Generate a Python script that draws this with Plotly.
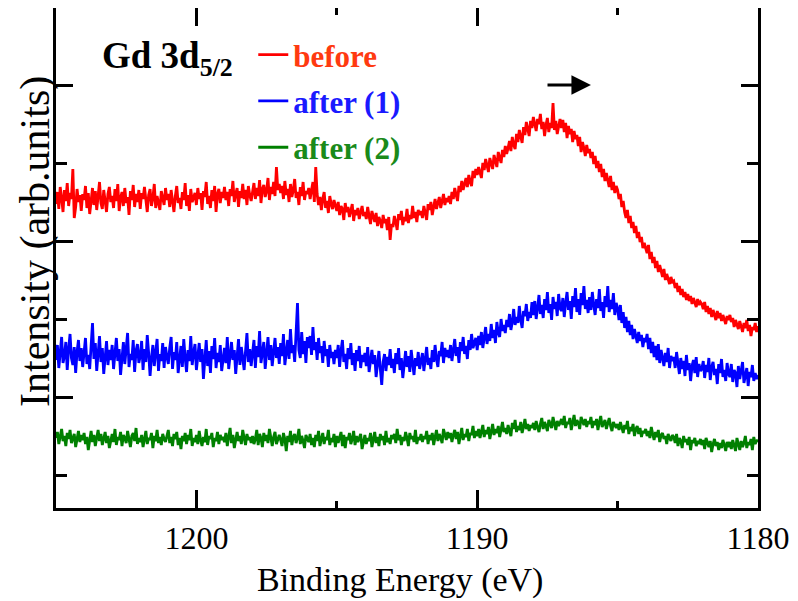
import plotly.graph_objects as go

# Binding energy grid (eV), 0.05 eV step from 1205.00 down to 1180.00
energy = [round(1205.0 - 0.05 * i, 2) for i in range(501)]

# Intensities (arb. units); each row spans 1 eV (1205 -> 1180)
before = [
    304, 316, 299, 321, 310, 296, 318, 307, 325, 302, 315, 309, 339, 290, 301, 319, 306, 313, 297, 314,
    308, 322, 300, 315, 294, 311, 320, 303, 317, 298, 313, 326, 305, 299, 318, 309, 296, 314, 321, 306,
    312, 300, 319, 307, 324, 297, 310, 316, 302, 320, 305, 311, 293, 317, 308, 323, 301, 314, 306, 318,
    299, 315, 309, 321, 304, 296, 313, 319, 302, 310, 324, 300, 312, 306, 298, 317, 311, 303, 320, 308,
    314, 301, 318, 307, 296, 312, 322, 305, 310, 299, 316, 308, 325, 302, 313, 297, 319, 306, 311, 315,
    303, 320, 309, 315, 298, 317, 311, 326, 304, 312, 300, 318, 307, 322, 296, 314, 319, 305, 316, 310,
    321, 308, 316, 302, 319, 312, 327, 306, 314, 320, 301, 317, 310, 324, 309, 318, 303, 322, 313, 307,
    316, 325, 309, 320, 312, 328, 305, 319, 323, 311, 317, 330, 308, 321, 314, 326, 312, 341, 318, 324,
    315, 322, 309, 327, 313, 319, 306, 324, 311, 318, 329, 310, 316, 303, 321, 312, 326, 308, 317, 314,
    320, 309, 318, 326, 306, 341, 314, 303, 311, 298, 309, 316, 300, 307, 295, 312, 304, 299, 308, 302,
    297, 306, 293, 302, 299, 288, 305, 296, 301, 291, 299, 304, 287, 298, 293, 300, 289, 297, 302, 292,
    296, 289, 301, 292, 284, 297, 290, 286, 295, 282, 291, 287, 280, 293, 285, 289, 278, 291, 268, 284,
    281, 292, 286, 278, 294, 288, 297, 283, 291, 287, 299, 285, 293, 289, 302, 290, 296, 286, 298, 293,
    297, 290, 302, 295, 288, 304, 298, 306, 293, 301, 309, 299, 305, 311, 300, 307, 314, 303, 310, 306,
    312, 304, 316, 309, 320, 313, 307, 322, 316, 327, 318, 324, 330, 321, 333, 326, 322, 337, 330, 339,
    333, 341, 336, 330, 345, 338, 349, 342, 336, 350, 344, 339, 353, 347, 341, 356, 349, 345, 358, 351,
    362, 354, 360, 367, 357, 371, 363, 359, 374, 366, 378, 370, 365, 381, 373, 386, 377, 372, 387, 380,
    391, 382, 377, 389, 384, 394, 379, 386, 372, 383, 390, 376, 385, 380, 405, 378, 387, 374, 382, 389,
    380, 388, 376, 385, 370, 382, 374, 379, 366, 377, 369, 373, 362, 371, 356, 366, 360, 352, 363, 355,
    359, 350, 356, 344, 352, 340, 347, 336, 344, 331, 339, 327, 335, 329, 321, 332, 318, 326, 315, 322,
    318, 309, 314, 301, 307, 296, 290, 298, 285, 292, 280, 286, 275, 282, 270, 276, 266, 271, 260, 265,
    261, 255, 263, 249, 256, 245, 251, 240, 247, 236, 243, 238, 231, 239, 228, 234, 229, 224, 231, 226,
    227, 220, 225, 216, 222, 213, 219, 211, 216, 208, 214, 207, 212, 204, 210, 206, 201, 209, 203, 206,
    204, 199, 206, 196, 202, 194, 200, 191, 198, 193, 188, 197, 190, 195, 187, 193, 189, 184, 192, 188,
    193, 186, 190, 181, 188, 184, 179, 187, 182, 176, 185, 180, 188, 177, 183, 172, 181, 178, 185, 176,
    182,
]

after1 = [
    148, 163, 140, 157, 171, 145, 152, 166, 138, 159, 174, 150, 143, 161, 135, 156, 168, 147, 160, 141,
    158, 170, 144, 153, 139, 162, 185, 149, 165, 137, 156, 172, 146, 160, 134, 151, 167, 143, 158, 148,
    163, 139, 155, 170, 147, 159, 133, 152, 166, 144, 161, 175, 141, 154, 148, 168, 136, 157, 164, 145,
    152, 167, 138, 159, 146, 173, 155, 132, 150, 163, 142, 158, 169, 137, 154, 147, 165, 140, 161, 151,
    144, 160, 171, 139, 156, 148, 166, 135, 153, 162, 141, 169, 150, 136, 158, 147, 172, 143, 155, 164,
    138, 153, 165, 146, 159, 129, 151, 168, 142, 157, 135, 162, 149, 170, 140, 155, 146, 163, 137, 152,
    160, 145, 171, 139, 154, 166, 148, 158, 134, 152, 169, 143, 161, 150, 138, 157, 175, 146, 159, 142,
    155, 168, 140, 162, 151, 177, 145, 158, 166, 139, 153, 171, 148, 163, 142, 157, 170, 150, 161, 144,
    165, 152, 174, 143, 160, 168, 149, 179, 155, 163, 146, 170, 205, 158, 150, 176, 154, 167, 145, 171,
    160, 172, 153, 181, 158, 166, 148, 170, 155, 162, 145, 167, 152, 159, 141, 163, 150, 156, 144, 158,
    150, 163, 141, 157, 168, 146, 154, 139, 160, 149, 165, 143, 155, 137, 158, 147, 162, 140, 153, 146,
    155, 142, 161, 136, 150, 158, 144, 153, 131, 148, 157, 139, 123, 146, 154, 137, 151, 143, 159, 140,
    149, 135, 155, 144, 160, 138, 150, 130, 147, 157, 141, 152, 136, 158, 145, 133, 150, 142, 156, 139,
    147, 155, 137, 152, 161, 143, 150, 139, 158, 146, 163, 149, 141, 157, 152, 166, 145, 160, 151, 158,
    150, 163, 147, 158, 169, 152, 161, 145, 166, 157, 171, 154, 162, 149, 168, 158, 174, 160, 165, 170,
    158, 172, 163, 176, 160, 169, 181, 164, 174, 167, 184, 170, 178, 165, 186, 175, 171, 189, 177, 183,
    175, 188, 181, 194, 178, 186, 199, 183, 191, 185, 202, 188, 180, 197, 192, 204, 187, 196, 190, 206,
    193, 207, 189, 200, 213, 194, 203, 190, 209, 198, 216, 195, 204, 188, 211, 199, 206, 192, 214, 200,
    197, 210, 191, 205, 216, 198, 207, 189, 212, 201, 220, 196, 209, 193, 215, 203, 222, 199, 208, 195,
    211, 198, 216, 203, 193, 209, 200, 219, 197, 206, 190, 212, 201, 222, 196, 208, 199, 215, 193, 205,
    200, 188, 203, 185, 196, 180, 191, 176, 187, 173, 183, 169, 179, 172, 165, 176, 167, 173, 161, 170,
    166, 174, 159, 170, 155, 166, 151, 162, 148, 164, 145, 158, 150, 142, 155, 146, 160, 140, 152, 147,
    151, 140, 156, 143, 134, 150, 139, 147, 132, 153, 138, 145, 127, 142, 148, 135, 151, 131, 144, 137,
    139, 147, 130, 143, 136, 150, 128, 141, 146, 133, 139, 124, 144, 135, 149, 131, 138, 127, 145, 134,
    131, 144, 126, 138, 135, 121, 142, 129, 137, 146, 125, 134, 140, 122, 136, 131, 143, 127, 135, 129,
    133,
]

after2 = [
    70, 76, 64, 73, 79, 67, 72, 62, 75, 69, 78, 65, 71, 74, 61, 70, 77, 66, 73, 68,
    75, 64, 71, 58, 69, 77, 66, 73, 62, 70, 78, 67, 74, 63, 71, 76, 65, 72, 60, 69,
    74, 66, 79, 63, 71, 68, 76, 62, 73, 70, 65, 77, 69, 61, 72, 75, 67, 80, 64, 70,
    66, 73, 61, 71, 77, 64, 70, 68, 75, 60, 72, 67, 78, 65, 71, 63, 74, 69, 66, 72,
    78, 65, 71, 62, 74, 69, 76, 63, 70, 59, 72, 67, 75, 64, 73, 68, 79, 62, 70, 66,
    73, 64, 77, 68, 62, 71, 66, 79, 63, 72, 69, 75, 61, 70, 67, 76, 64, 73, 68, 71,
    66, 75, 62, 71, 80, 65, 73, 60, 69, 76, 67, 72, 64, 78, 70, 63, 74, 68, 71, 65,
    72, 64, 69, 78, 63, 74, 70, 61, 75, 67, 73, 65, 79, 68, 62, 71, 76, 64, 70, 73,
    68, 62, 75, 69, 57, 72, 66, 77, 63, 71, 74, 65, 70, 79, 64, 72, 67, 60, 73, 69,
    66, 74, 63, 70, 61, 73, 67, 77, 62, 69, 75, 64, 71, 68, 78, 63, 70, 66, 74, 61,
    72, 65, 70, 76, 62, 73, 60, 71, 68, 75, 64, 69, 77, 63, 72, 66, 70, 74, 59, 68,
    73, 64, 70, 67, 75, 61, 69, 76, 65, 71, 62, 74, 68, 72, 63, 77, 66, 70, 64, 73,
    69, 74, 65, 79, 68, 73, 63, 71, 67, 76, 70, 62, 75, 69, 72, 66, 78, 64, 71, 68,
    74, 66, 72, 69, 77, 64, 73, 68, 75, 63, 71, 78, 67, 74, 70, 65, 79, 72, 68, 76,
    70, 75, 66, 73, 78, 69, 76, 64, 72, 80, 68, 74, 71, 79, 67, 75, 73, 82, 70, 77,
    72, 79, 70, 76, 83, 71, 78, 74, 81, 69, 77, 84, 73, 79, 75, 82, 71, 78, 86, 76,
    80, 74, 83, 77, 72, 85, 79, 88, 76, 82, 78, 86, 75, 81, 89, 79, 84, 77, 83, 80,
    85, 78, 87, 81, 76, 84, 90, 79, 86, 82, 77, 88, 83, 80, 91, 84, 78, 87, 82, 85,
    89, 83, 92, 80, 86, 84, 90, 78, 87, 93, 82, 88, 85, 79, 91, 86, 83, 89, 81, 87,
    84, 91, 80, 87, 83, 89, 78, 86, 92, 81, 85, 88, 79, 84, 90, 82, 77, 86, 83, 80,
    84, 78, 86, 80, 75, 83, 79, 87, 74, 81, 77, 84, 72, 79, 82, 74, 80, 71, 77, 75,
    79, 72, 77, 70, 81, 74, 68, 76, 71, 78, 66, 73, 75, 69, 72, 64, 74, 70, 67, 73,
    71, 65, 74, 62, 70, 67, 60, 72, 66, 69, 63, 71, 58, 68, 65, 70, 62, 67, 64, 69,
    63, 68, 59, 70, 65, 61, 67, 56, 64, 69, 62, 66, 58, 65, 60, 68, 63, 57, 66, 61,
    66, 59, 68, 62, 57, 70, 63, 58, 67, 61, 65, 72, 60, 66, 63, 69, 58, 71, 64, 67,
    68,
]

assert len(before) == len(after1) == len(after2) == len(energy), (len(before), len(after1), len(after2))

series_names = ["before", "after (1)", "after (2)"]
line_colors = ["#ff0000", "#0000ff", "#008000"]
label_colors = ["#ff3a10", "#1a1aff", "#1a8a1a"]
x_ticks = [1200, 1190, 1180]
x_minor = [1195, 1185]
y_major = [111, 267, 423]
y_minor = [33, 189, 345]

FONT = "Liberation Serif"

fig = go.Figure()
for i, (name, ys) in enumerate(zip(series_names, [before, after1, after2])):
    fig.add_trace(go.Scatter(
        x=energy, y=ys, mode="lines",
        line=dict(color=line_colors[i], width=2.8),
        name=f"<b><span style='color:{label_colors[i]}'>{name}</span></b>",
        legendgroup=f"g{i}",
    ))

fig.update_xaxes(
    range=[1205, 1180], autorange=False,
    tickmode="array", tickvals=x_ticks,
    ticks="inside", ticklen=18, tickwidth=2.5, tickcolor="black",
    minor=dict(tickmode="array", tickvals=x_minor, ticks="inside", ticklen=7,
               tickwidth=2.5, tickcolor="black", showgrid=False),
    showline=True, linewidth=2.5, linecolor="black", mirror="ticks",
    showgrid=False, zeroline=False,
    tickfont=dict(family=FONT, size=32, color="black"),
)
fig.update_yaxes(
    range=[0, 500], autorange=False,
    tickmode="array", tickvals=y_major, showticklabels=False,
    ticks="inside", ticklen=17, tickwidth=2.5, tickcolor="black",
    minor=dict(tickmode="array", tickvals=y_minor, ticks="inside", ticklen=11,
               tickwidth=2.5, tickcolor="black", showgrid=False),
    showline=True, linewidth=2.5, linecolor="black", mirror="ticks",
    showgrid=False, zeroline=False,
)

# axis titles
fig.add_annotation(
    x=0.49, y=-0.144, xref="paper", yref="paper", xanchor="center", yanchor="middle",
    text="Binding Energy (eV)", showarrow=False,
    font=dict(family=FONT, size=34, color="black"),
)
fig.add_annotation(
    x=-0.0299, y=0.532, xref="paper", yref="paper", xanchor="center", yanchor="middle",
    text="Intensity (arb.units)", textangle=-90, showarrow=False,
    font=dict(family=FONT, size=42, color="black"),
)

# arrow pointing toward lower binding energy
fig.add_annotation(
    x=1185.95, y=423, ax=1187.55, ay=423,
    xref="x", yref="y", axref="x", ayref="y",
    text="", showarrow=True, arrowhead=2, arrowsize=1.3, arrowwidth=3, arrowcolor="black",
)

fig.add_annotation(
    x=0.063, y=0.899, xref="paper", yref="paper", xanchor="left", yanchor="middle",
    text="<b>Gd 3d<sub>5/2</sub></b>", showarrow=False,
    font=dict(family=FONT, size=37, color="black"),
)

fig.update_layout(
    width=790, height=593,
    margin=dict(l=48, r=40, t=0, b=93, autoexpand=False),
    paper_bgcolor="white", plot_bgcolor="white",
    font=dict(family=FONT, color="black"),
    showlegend=True,
    legend=dict(x=0.281, y=0.960, xanchor="left", yanchor="top",
                bgcolor="rgba(0,0,0,0)", borderwidth=0,
                font=dict(family=FONT, size=31), tracegroupgap=3,
                itemwidth=30),
)

fig.write_html("out.html")
